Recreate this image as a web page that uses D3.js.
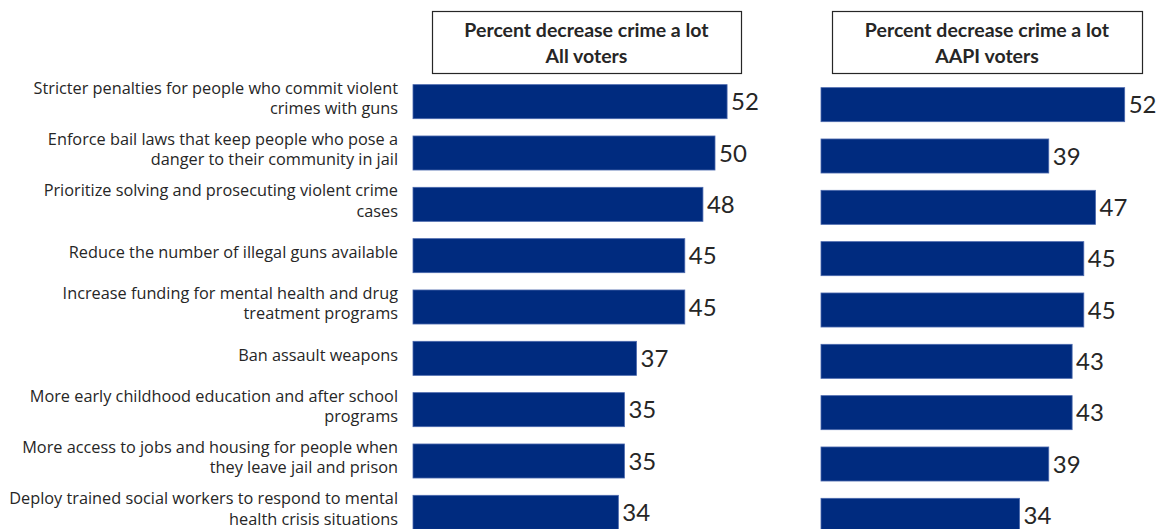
<!DOCTYPE html>
<html>
<head>
<meta charset="utf-8">
<script src="https://cdn.jsdelivr.net/npm/d3@7"></script>
<style>
  html, body { margin: 0; padding: 0; background: #fff; }
  svg { display: block; }
</style>
</head>
<body>
<svg id="chart" width="1162" height="529"></svg>
<script>
const categories = [
  ["Stricter penalties for people who commit violent", "crimes with guns"],
  ["Enforce bail laws that keep people who pose a", "danger to their community in jail"],
  ["Prioritize solving and prosecuting violent crime", "cases"],
  ["Reduce the number of illegal guns available"],
  ["Increase funding for mental health and drug", "treatment programs"],
  ["Ban assault weapons"],
  ["More early childhood education and after school", "programs"],
  ["More access to jobs and housing for people when", "they leave jail and prison"],
  ["Deploy trained social workers to respond to mental", "health crisis situations"]
];
const allVoters = [52, 50, 48, 45, 45, 37, 35, 35, 34];
const aapiVoters = [52, 39, 47, 45, 45, 43, 43, 39, 34];
const titles = [
  ["Percent decrease crime a lot", "All voters"],
  ["Percent decrease crime a lot", "AAPI voters"]
];

const svg = d3.select("#chart");
const FONT = "Lato, 'Open Sans', sans-serif";
const LABEL_FONT = "'Open Sans', 'Noto Sans', sans-serif";
const BAR = "#002b7f";
const TEXT = "#262626";

const ids = d3.range(categories.length);

const panels = [
  { values: allVoters, title: titles[0], x: d3.scaleLinear().domain([0, 100]).range([413, 1017]), y: d3.scaleBand().domain(ids).range([76, 538]).paddingInner(0.337).paddingOuter(0.1685), box: [432, 11, 309, 62] },
  { values: aapiVoters, title: titles[1], x: d3.scaleLinear().domain([0, 100]).range([821, 1405]), y: d3.scaleBand().domain(ids).range([79, 541]).paddingInner(0.337).paddingOuter(0.1685), box: [832, 11, 310, 62] }
];

panels.forEach(p => {
  const g = svg.append("g");
  g.append("rect")
    .attr("x", p.box[0] + 0.5).attr("y", p.box[1] + 0.5)
    .attr("width", p.box[2]).attr("height", p.box[3])
    .attr("fill", "#fff").attr("stroke", "#262626").attr("stroke-width", 1.2);
  g.append("text")
    .attr("font-family", FONT).attr("font-weight", "bold").attr("font-size", 19.5)
    .attr("fill", TEXT).attr("text-anchor", "middle")
    .selectAll("tspan").data(p.title).join("tspan")
    .attr("x", p.box[0] + p.box[2] / 2)
    .attr("y", (d, i) => 37 + i * 26)
    .text(d => d);

  g.selectAll("rect.bar").data(p.values).join("rect")
    .attr("class", "bar")
    .attr("x", p.x(0))
    .attr("y", (d, i) => p.y(i))
    .attr("width", d => p.x(d) - p.x(0))
    .attr("height", p.y.bandwidth())
    .attr("fill", BAR)
    .attr("stroke", "#4a68ad").attr("stroke-width", 0.8);

  g.selectAll("text.val").data(p.values).join("text")
    .attr("class", "val")
    .attr("x", d => p.x(d) + 4)
    .attr("y", (d, i) => p.y(i) + p.y.bandwidth() / 2)
    .attr("dy", "0.36em")
    .attr("font-family", FONT).attr("font-size", 24)
    .attr("fill", TEXT)
    .text(d => d);
});

// category labels
const y0 = panels[0].y;
const lab = svg.append("g").attr("font-family", LABEL_FONT).attr("font-size", 16.3).attr("fill", TEXT).attr("text-anchor", "end");
categories.forEach((lines, i) => {
  const cy = y0(i) + y0.bandwidth() / 2 - 3.5;
  const lh = 20.5;
  const t = lab.append("text");
  lines.forEach((ln, j) => {
    t.append("tspan")
      .attr("x", 398)
      .attr("y", cy + (j - (lines.length - 1) / 2) * lh)
      .attr("dy", "0.35em")
      .text(ln);
  });
});
</script>
</body>
</html>
